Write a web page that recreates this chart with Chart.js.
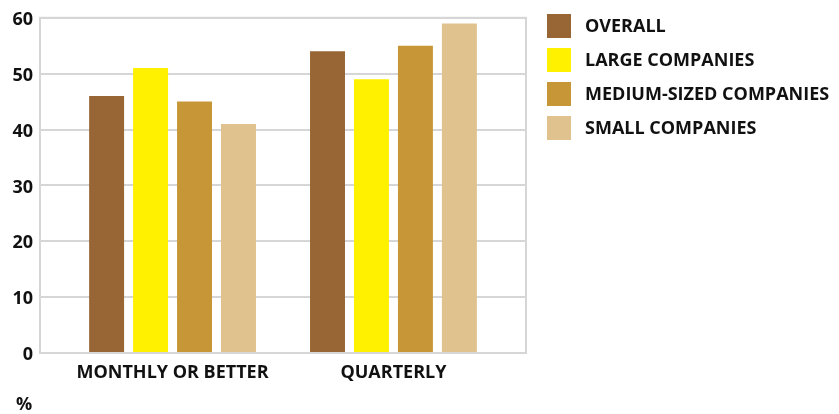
<!DOCTYPE html>
<html>
<head>
<meta charset="utf-8">
<script src="https://cdn.jsdelivr.net/npm/chart.js@4"></script>
<style>
  html, body { margin: 0; padding: 0; background: #fff; }
  #wrap { position: relative; width: 839px; height: 414px; }
</style>
</head>
<body>
<div id="wrap"><canvas id="freqChart"></canvas></div>
<script>
const periods = ['MONTHLY OR BETTER', 'QUARTERLY'];
const seriesNames = ['OVERALL', 'LARGE COMPANIES', 'MEDIUM-SIZED COMPANIES', 'SMALL COMPANIES'];
const overall = [46, 54];
const large = [51, 49];
const medium = [45, 55];
const small = [41, 59];
const yTicks = [0, 10, 20, 30, 40, 50, 60];
const unitLabel = '%';

const colors = ['#986534', '#FFF100', '#C79636', '#DFC28D'];
const gridColor = '#d6d6d6';
const fontFamily = '"Open Sans", "DejaVu Sans", sans-serif';

const seriesValues = [overall, large, medium, small];
const datasets = seriesValues.map((vals, i) => ({
  label: seriesNames[i],
  data: vals.map((v, j) => ({ x: j, y: v })),
  backgroundColor: colors[i],
  borderWidth: 0,
  categoryPercentage: 0.796,
  barPercentage: 0.795
}));

// frame around the plot area plus the hand-drawn legend and unit label
const extras = {
  id: 'extras',
  beforeDatasetsDraw(chart) {
    const { ctx, chartArea: a } = chart;
    ctx.save();
    ctx.strokeStyle = gridColor;
    ctx.lineWidth = 2;
    ctx.strokeRect(a.left, a.top, a.right - a.left, a.bottom - a.top);
    ctx.restore();
  },
  afterDraw(chart) {
    const { ctx } = chart;
    ctx.save();
    ctx.font = 'bold 18px ' + fontFamily;
    ctx.textBaseline = 'middle';
    chart.data.datasets.forEach((ds, i) => {
      const y = 14 + i * 34;
      ctx.fillStyle = ds.backgroundColor;
      ctx.fillRect(547, y, 24, 24);
      ctx.fillStyle = '#111';
      ctx.fillText(ds.label, 585, y + 13);
    });
    ctx.font = 'bold 18px ' + fontFamily;
    ctx.fillText(unitLabel, 16, 405);
    ctx.restore();
  }
};

new Chart(document.getElementById('freqChart'), {
  type: 'bar',
  data: { datasets },
  options: {
    responsive: true,
    maintainAspectRatio: false,
    animation: false,
    layout: { padding: { top: 14, right: 313, bottom: 0, left: 0 } },
    plugins: { legend: { display: false }, tooltip: { enabled: false } },
    scales: {
      x: {
        type: 'linear',
        min: -0.6,
        max: 1.6,
        offset: false,
        grid: { display: false },
        border: { display: false },
        afterBuildTicks: s => { s.ticks = periods.map((_, i) => ({ value: i })); },
        afterFit: s => { s.height = 61; },
        ticks: {
          color: '#111',
          font: { family: fontFamily, size: 18, weight: 'bold' },
          padding: 1,
          maxRotation: 0,
          autoSkip: false,
          callback: v => periods[v]
        }
      },
      y: {
        min: 0,
        max: 60,
        afterBuildTicks: s => { s.ticks = yTicks.map(v => ({ value: v })); },
        afterFit: s => { s.width = 40; },
        grid: { color: gridColor, lineWidth: 2, drawTicks: false },
        border: { display: false },
        ticks: {
          color: '#111',
          font: { family: fontFamily, size: 18, weight: 'bold' },
          padding: 7,
          labelOffset: 2
        }
      }
    }
  },
  plugins: [extras]
});
</script>
</body>
</html>
